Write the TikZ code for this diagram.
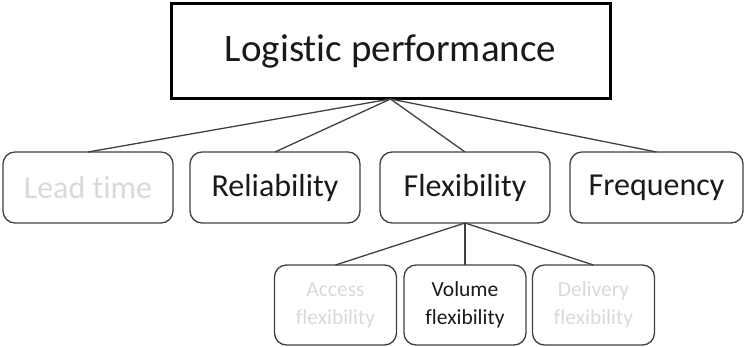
\documentclass[tikz,border=0pt]{standalone}
\usepackage{fontspec}
\setmainfont{Carlito}[Ligatures={NoCommon,NoRequired,NoContextual}]
\definecolor{edge}{HTML}{404040}
\definecolor{faint}{HTML}{D9D9D9}
\definecolor{ink}{HTML}{1A1A1A}
\begin{document}
\begin{tikzpicture}[x=1pt,y=-1pt,
  topbox/.style={draw=black,line width=3pt,minimum width=439pt,minimum height=95pt,inner sep=0pt,outer sep=0pt,font=\fontsize{39}{47}\selectfont,text=ink},
  midbox/.style={draw=edge,line width=1.3pt,rounded corners=12pt,minimum width=170pt,minimum height=71pt,inner sep=0pt,outer sep=0pt,font=\fontsize{32}{38}\selectfont,text=ink},
  lowbox/.style={draw=edge,line width=1.3pt,rounded corners=12pt,minimum width=122pt,minimum height=80pt,inner sep=0pt,outer sep=0pt,align=center,font=\fontsize{21.5}{28}\selectfont,text=ink},
  faded/.style={text=faint},
  link/.style={draw=edge,line width=1.3pt}]
\useasboundingbox (0,0) rectangle (745,347);
\node[topbox] (lp) at (390.5,51.5) {Logistic performance};
\node[midbox,faded] (lt) at (88,187.5) {Lead time};
\node[midbox] (rel) at (275,187.5) {Reliability};
\node[midbox] (flex) at (465,187.5) {Flexibility};
\node[midbox,minimum width=173pt] (freq) at (656.5,187.5) {Frequency};
\node[lowbox,faded] (acc) at (335.5,305) {Access\\flexibility};
\node[lowbox] (vol) at (465,305) {Volume\\flexibility};
\node[lowbox,faded] (del) at (593.5,305) {Delivery\\flexibility};
\draw[link] (lp.south) -- (lt.north);
\draw[link] (lp.south) -- (rel.north);
\draw[link] (lp.south) -- (flex.north);
\draw[link] (lp.south) -- (freq.north);
\draw[link] (flex.south) -- (acc.north);
\draw[link] (flex.south) -- (vol.north);
\draw[link] (flex.south) -- (del.north);
\end{tikzpicture}
\end{document}
